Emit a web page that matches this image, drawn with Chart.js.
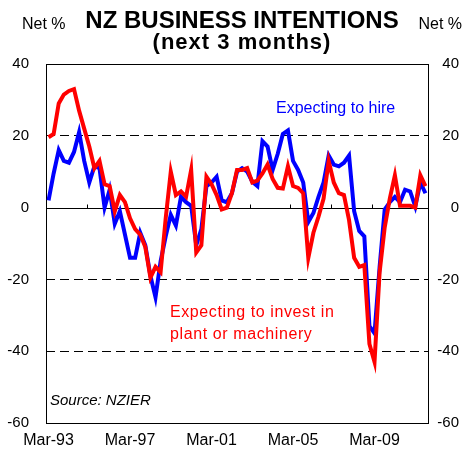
<!DOCTYPE html>
<html lang="en">
<head>
<meta charset="UTF-8">
<title>NZ Business Intentions</title>
<script src="https://cdn.jsdelivr.net/npm/chart.js"></script>
<style>
    body { margin: 0; background: white; }
    canvas { display: block; }
</style>
</head>
<body>
<canvas id="intentionsChart" width="476" height="458"></canvas>
<script>
    // quarterly, Mar-93 .. Sep-11
    const monthNames = ['Mar', 'Jun', 'Sep', 'Dec'];
    const firstYear = 1993;
    const quarterCount = 75;
    const tickLabels = ['Mar-93', 'Mar-97', 'Mar-01', 'Mar-05', 'Mar-09'];

    const hireValues = [
        2, 9.5, 16, 13, 12.5, 15.5, 21, 13, 7, 11.5,
        11, 0, 5, -4.5, -1, -7.5, -14, -14, -7, -10.5,
        -19, -25, -15, -8, -2, -5, 3, 1.5, 0.5, -10.5,
        -6, 6, 7, 8.6, 2, 1.5, 4, 10, 11, 10,
        7.2, 6, 18.5, 17, 10.5, 15, 20.5, 21.5, 13, 10.5,
        7, -4, -1.5, 3, 7, 14.5, 12, 11.5, 12.5, 14.5,
        -1, -6.5, -8, -33, -35, -16.5, -0.5, 1.5, 3, 1.5,
        5, 4.5, 0.3, 7, 4
    ];
    const investValues = [
        19.6, 20.5, 29, 31.5, 32.5, 33, 27, 22, 17, 11,
        13, 6.5, 6, -1, 3.5, 1.5, -3, -6, -7.5, -11,
        -19.5, -16.5, -18, -3, 10, 3.5, 4.5, 3, 10.5, -12.5,
        -10.5, 8.6, 6.5, 3.5, -0.5, 0, 4, 10.5, 10.5, 11,
        7, 7.5, 9.5, 12, 8, 5.5, 5.3, 11.5, 6, 5.5,
        4, -14, -7, -2.5, 2.5, 13, 7, 4, 3.5, -3.5,
        -14, -16.5, -16, -38, -43, -18, -5.5, 2.5, 9, 0.5,
        0.5, 0.5, 0, 9, 6
    ];

    const quarters = [];
    for (let i = 0; i < quarterCount; i++) {
        const yr = (firstYear + Math.floor(i / 4)) % 100;
        quarters.push(monthNames[i % 4] + '-' + String(yr).padStart(2, '0'));
    }

    const FONT = "'Liberation Sans', Arial, sans-serif";

    // box round the plot, solid zero line and the little ticks on it
    const framePlugin = {
        id: 'frame',
        beforeDatasetsDraw(chart) {
            const { ctx, chartArea: a, scales } = chart;
            const zeroY = Math.round(scales.y.getPixelForValue(0)) + 0.5;
            ctx.save();
            ctx.strokeStyle = '#000';
            ctx.lineWidth = 1;
            ctx.beginPath();
            ctx.moveTo(a.left, zeroY);
            ctx.lineTo(a.right, zeroY);
            for (let k = 8; k < quarterCount; k += 8) {
                const x = Math.round((scales.x.getPixelForValue(k - 1) + scales.x.getPixelForValue(k)) / 2) + 0.5;
                ctx.moveTo(x, zeroY);
                ctx.lineTo(x, zeroY - 4);
            }
            ctx.stroke();
            ctx.strokeRect(Math.round(a.left) + 0.5, Math.round(a.top) + 0.5,
                Math.round(a.right - a.left), Math.round(a.bottom - a.top));
            ctx.restore();
        }
    };

    // headings and labels written on the chart
    const textPlugin = {
        id: 'texts',
        afterDraw(chart) {
            const ctx = chart.ctx;
            ctx.save();
            ctx.textBaseline = 'alphabetic';
            ctx.fillStyle = '#000';

            ctx.font = '16px ' + FONT;
            ctx.textAlign = 'left';
            ctx.fillText('Net %', 22, 29);
            ctx.textAlign = 'right';
            ctx.fillText('Net %', 462, 29);

            ctx.textAlign = 'center';
            ctx.font = 'bold 24px ' + FONT;
            ctx.fillText('NZ BUSINESS INTENTIONS', 242, 28);
            ctx.font = 'bold 22px ' + FONT;
            ctx.letterSpacing = '1px';
            ctx.fillText('(next 3 months)', 242, 49);
            ctx.letterSpacing = '0px';

            ctx.textAlign = 'left';
            ctx.font = '16px ' + FONT;
            ctx.fillStyle = '#0000FF';
            ctx.fillText('Expecting to hire', 276, 113);

            ctx.fillStyle = '#FF0000';
            ctx.letterSpacing = '0.6px';
            ctx.fillText('Expecting to invest in', 170, 317);
            ctx.fillText('plant or machinery', 170, 339);
            ctx.letterSpacing = '0px';

            ctx.fillStyle = '#000';
            ctx.font = 'italic 15px ' + FONT;
            ctx.fillText('Source: NZIER', 50, 405);
            ctx.restore();
        }
    };

    const ctx = document.getElementById('intentionsChart').getContext('2d');

    new Chart(ctx, {
        type: 'line',
        data: {
            labels: quarters,
            datasets: [
                {
                    label: 'Expecting to invest in plant or machinery',
                    data: investValues,
                    borderColor: '#FF0000',
                    borderWidth: 4,
                    pointRadius: 0,
                    tension: 0,
                    fill: false
                },
                {
                    label: 'Expecting to hire',
                    data: hireValues,
                    borderColor: '#0000FF',
                    borderWidth: 4,
                    pointRadius: 0,
                    tension: 0,
                    fill: false
                }
            ]
        },
        options: {
            responsive: false,
            animation: false,
            layout: { padding: { top: 64, left: 0, right: 17, bottom: 0 } },
            plugins: {
                legend: { display: false },
                tooltip: { enabled: false }
            },
            scales: {
                x: {
                    type: 'category',
                    offset: true,
                    grid: { display: false, drawTicks: false },
                    border: { display: false },
                    ticks: {
                        autoSkip: false,
                        maxRotation: 0,
                        padding: 8,
                        color: '#000',
                        font: { size: 16, family: FONT },
                        callback: function (value) {
                            const lab = this.getLabelForValue(value);
                            return tickLabels.includes(lab) ? lab : '';
                        }
                    },
                    afterFit: s => { s.height = 35; }
                },
                y: {
                    position: 'left',
                    min: -60,
                    max: 40,
                    grid: {
                        // zero line and frame are drawn solid by the plugin
                        color: c => (c.tick && [0, 40, -60].includes(c.tick.value)) ? 'rgba(0,0,0,0)' : '#000',
                        lineWidth: 1,
                        drawTicks: false
                    },
                    border: { display: false, dash: [9, 5] },
                    ticks: {
                        stepSize: 20,
                        padding: 17,
                        color: '#000',
                        font: { size: 15, family: FONT }
                    },
                    afterFit: s => { s.width = 46; }
                },
                y2: {
                    position: 'right',
                    min: -60,
                    max: 40,
                    grid: { display: false, drawTicks: false },
                    border: { display: false },
                    ticks: {
                        stepSize: 20,
                        crossAlign: 'far',
                        color: '#000',
                        font: { size: 15, family: FONT }
                    },
                    afterFit: s => { s.width = 31; }
                }
            }
        },
        plugins: [framePlugin, textPlugin]
    });
</script>
</body>
</html>
